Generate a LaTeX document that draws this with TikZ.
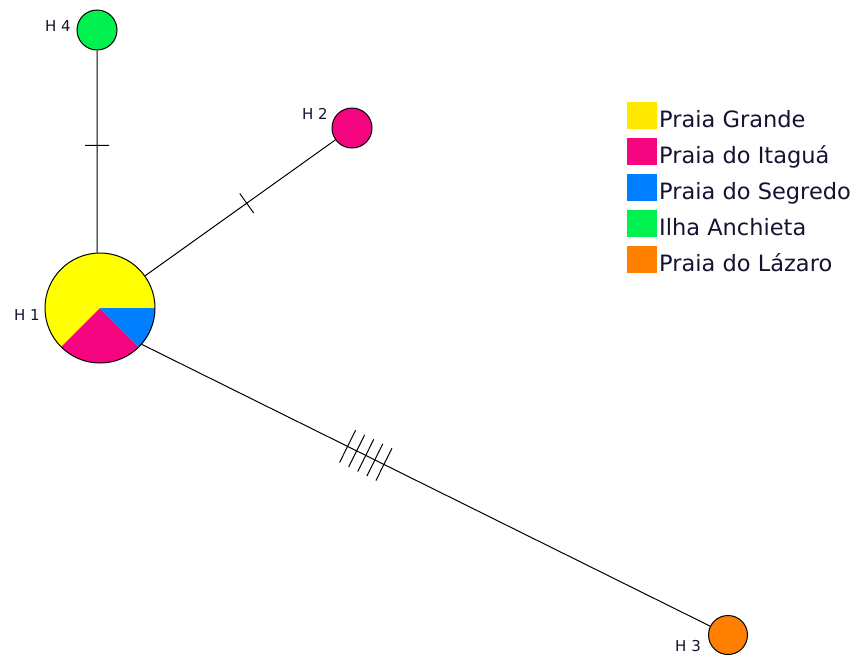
\documentclass[tikz,border=0pt]{standalone}
\usepackage{fontspec}
\setmainfont{DejaVu Sans}
\definecolor{cYel}{HTML}{FFFF00}
\definecolor{cYelL}{HTML}{FFE800}
\definecolor{cPink}{HTML}{F50580}
\definecolor{cBlue}{HTML}{0080FF}
\definecolor{cGreen}{HTML}{00F050}
\definecolor{cOrange}{HTML}{FF8000}
\definecolor{cText}{HTML}{141432}
\begin{document}
\begin{tikzpicture}[x=1pt,y=1pt,
  hap/.style={circle,draw=black,line width=1pt,inner sep=0pt,minimum size=40pt},
  hlabel/.style={font=\fontsize{15}{15}\selectfont,text=cText,inner sep=0pt},
  link/.style={line width=1pt,black},
  tickA/.style={sloped,draw=black,line width=1pt,inner sep=0pt,minimum width=0pt,minimum height=24pt,rectangle},
  tickB/.style={sloped,draw=black,line width=1pt,inner sep=0pt,minimum width=0pt,minimum height=36pt,rectangle},
  legbox/.style={inner sep=0pt,minimum width=30pt,minimum height=27pt},
  legtext/.style={font=\fontsize{22.5}{22.5}\selectfont,text=cText,inner sep=0pt,anchor=base west}]
\useasboundingbox (0,0) rectangle (856,-659);
% H1 pie
\coordinate (c1) at (100,-308);
\fill[cYel] (c1) -- ++(0:55) arc[start angle=0,end angle=225,radius=55] -- cycle;
\fill[cPink] (c1) -- ++(225:55) arc[start angle=225,end angle=315,radius=55] -- cycle;
\fill[cBlue] (c1) -- ++(315:55) arc[start angle=315,end angle=360,radius=55] -- cycle;
\node[circle,draw=black,line width=1pt,inner sep=0pt,minimum size=110pt] (h1) at (c1) {};
% other haplotypes
\node[hap,fill=cGreen] (h4) at (97,-30) {};
\node[hap,fill=cPink] (h2) at (352,-128) {};
\node[hap,fill=cOrange,minimum size=39pt] (h3) at (728,-635) {};
% labels
\node[hlabel] (l1) at (27,-315) {H 1};
\node[hlabel] (l4) at (58,-26) {H 4};
\node[hlabel] (l2) at (315,-114) {H 2};
\node[hlabel] (l3) at (688,-646) {H 3};
% links
\draw[link] (h1.93) -- (h4) node[tickA,pos=0.53] (m4) {};
\draw[link] (h1) -- (h2) node[tickA,pos=0.534] (m2) {};
\draw[link] (h1.-41) -- (h3)
  node[tickB,pos=0.362] (m31) {}
  node[tickB,pos=0.378] (m32) {}
  node[tickB,pos=0.394] (m33) {}
  node[tickB,pos=0.410] (m34) {}
  node[tickB,pos=0.426] (m35) {};
% legend
\node[legbox,fill=cYelL,anchor=north west] (k1) at (627,-102) {};
\node[legbox,fill=cPink,anchor=north west] (k2) at (627,-138) {};
\node[legbox,fill=cBlue,anchor=north west] (k3) at (627,-174) {};
\node[legbox,fill=cGreen,anchor=north west] (k4) at (627,-210) {};
\node[legbox,fill=cOrange,anchor=north west] (k5) at (627,-246) {};
\node[legtext] (t1) at (659,-127) {Praia Grande};
\node[legtext] (t2) at (659,-163) {Praia do Itaguá};
\node[legtext] (t3) at (659,-199) {Praia do Segredo};
\node[legtext] (t4) at (659,-235) {Ilha Anchieta};
\node[legtext] (t5) at (659,-271) {Praia do Lázaro};
\end{tikzpicture}
\end{document}
